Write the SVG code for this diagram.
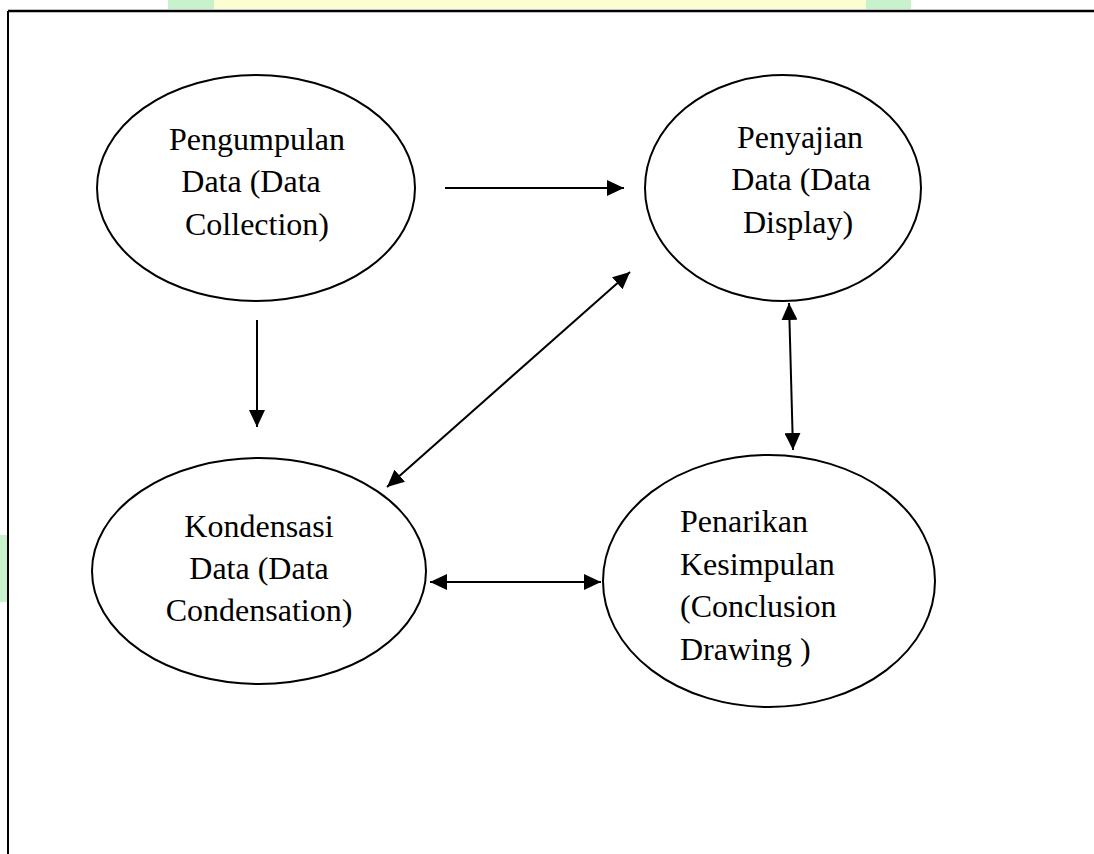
<svg xmlns="http://www.w3.org/2000/svg" width="1094" height="854" viewBox="0 0 1094 854">
<style>
.node ellipse{fill:#ffffff;stroke:#000;stroke-width:2}
.node text{font-family:'Liberation Serif','Times New Roman',Tinos,'DejaVu Serif',serif;font-size:32px;fill:#000}
.conn line{stroke:#000;stroke-width:2}
</style>
<defs>
<marker id="ah" markerUnits="userSpaceOnUse" markerWidth="18" markerHeight="16" viewBox="0 0 18 16" refX="17" refY="8" orient="auto-start-reverse">
<path d="M0,0 L17,8 L0,16 Z" fill="#000"/>
</marker>
</defs>
<rect width="1094" height="854" fill="#ffffff"/>
<g id="watermark">
<rect x="168" y="0" width="46" height="9" fill="#c8f2cc"/>
<rect x="214" y="0" width="652" height="9" fill="#fdfdd2"/>
<rect x="866" y="0" width="45" height="9" fill="#c8f2cc"/>
<rect x="0" y="535" width="7" height="67" fill="#c8f2cc"/>
</g>
<g id="frame">
<line x1="8" y1="11" x2="1094" y2="11" stroke="#000" stroke-width="2.5"/>
<line x1="8" y1="11" x2="8" y2="854" stroke="#000" stroke-width="2"/>
</g>
<g id="n1" class="node">
<ellipse cx="256" cy="188" rx="159" ry="113"/>
<text x="257" y="150" text-anchor="middle">Pengumpulan</text>
<text x="251" y="192" text-anchor="middle">Data (Data</text>
<text x="257" y="235" text-anchor="middle">Collection)</text>
</g>
<g id="n2" class="node">
<ellipse cx="783" cy="188" rx="138" ry="113"/>
<text x="800" y="148" text-anchor="middle">Penyajian</text>
<text x="801" y="190" text-anchor="middle">Data (Data</text>
<text x="798" y="233" text-anchor="middle">Display)</text>
</g>
<g id="n3" class="node">
<ellipse cx="259" cy="571" rx="167" ry="113"/>
<text x="259" y="537" text-anchor="middle">Kondensasi</text>
<text x="259" y="579" text-anchor="middle">Data (Data</text>
<text x="259" y="621" text-anchor="middle">Condensation)</text>
</g>
<g id="n4" class="node">
<ellipse cx="769" cy="581" rx="166" ry="126"/>
<text x="680" y="532">Penarikan</text>
<text x="680" y="575">Kesimpulan</text>
<text x="680" y="617">(Conclusion</text>
<text x="680" y="660">Drawing )</text>
</g>
<g id="connectors" class="conn">
<line x1="445" y1="188" x2="624" y2="188" marker-end="url(#ah)"/>
<line x1="257" y1="320" x2="257" y2="427" marker-end="url(#ah)"/>
<line x1="387" y1="487" x2="630" y2="272" marker-start="url(#ah)" marker-end="url(#ah)"/>
<line x1="789" y1="303" x2="793" y2="450" marker-start="url(#ah)" marker-end="url(#ah)"/>
<line x1="430" y1="582" x2="601" y2="582" marker-start="url(#ah)" marker-end="url(#ah)"/>
</g>
</svg>
